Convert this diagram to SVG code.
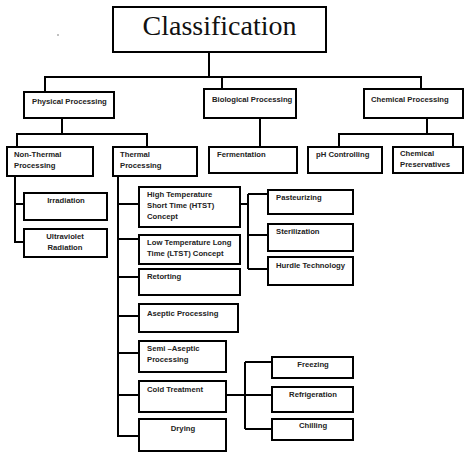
<svg xmlns="http://www.w3.org/2000/svg" width="474" height="453" viewBox="0 0 474 453">
<style>
.b{fill:#fff;stroke:#000;stroke-width:2}
.t{font-family:"Liberation Sans",Arial,sans-serif;font-weight:bold;font-size:7.7px;fill:#222}
.c{text-anchor:middle}
.ln{fill:none;stroke:#000;stroke-width:2}
</style>
<rect width="474" height="453" fill="#fff"/>
<circle cx="58" cy="35" r="0.7" fill="#555"/>
<g id="connectors" class="ln">
<path d="M209 52V77M45 92V77H421V89M222 77V89"/>
<path d="M62 118V134M17 147V134H147V147"/>
<path d="M260 118V147"/>
<path d="M427 118V134M339 147V134H453V147"/>
<path d="M15 176V242H24M15 204H24"/>
<path d="M118 176V436H139M118 204H139M118 239H139M118 277H139M118 316H139M118 353H139M118 395H139"/>
<path d="M240 204H248M248 194V269M248 194H268M248 235H268M248 269H268"/>
<path d="M226 395H245M245 362V429M245 362H272M245 395H272M245 429H272"/>
</g>
<g id="classification"><rect class="b" x="113" y="7" width="213" height="45"/><text x="219.5" y="35" text-anchor="middle" font-family="'Liberation Serif','Times New Roman',serif" font-size="28" fill="#111">Classification</text></g>
<g id="physical"><rect class="b" x="24" y="92" width="90" height="26"/><text class="t" x="32" y="104">Physical Processing</text></g>
<g id="biological"><rect class="b" x="204" y="89" width="92" height="29"/><text class="t" x="212" y="102">Biological Processing</text></g>
<g id="chemical"><rect class="b" x="364" y="89" width="99" height="29"/><text class="t" x="371" y="102">Chemical Processing</text></g>
<g id="nonthermal"><rect class="b" x="7" y="147" width="86" height="29"/><text class="t" x="14" y="157">Non-Thermal</text><text class="t" x="14" y="168">Processing</text></g>
<g id="thermal"><rect class="b" x="113" y="147" width="84" height="29"/><text class="t" x="120" y="157">Thermal</text><text class="t" x="120" y="168">Processing</text></g>
<g id="fermentation"><rect class="b" x="209" y="147" width="88" height="26"/><text class="t" x="217" y="157">Fermentation</text></g>
<g id="ph"><rect class="b" x="308" y="147" width="74" height="26"/><text class="t" x="316" y="157">pH Controlling</text></g>
<g id="preservatives"><rect class="b" x="393" y="147" width="70" height="26"/><text class="t" x="400" y="156">Chemical</text><text class="t" x="400" y="167">Preservatives</text></g>
<g id="irradiation"><rect class="b" x="24" y="193" width="83" height="27"/><text class="t c" x="66" y="203">Irradiation</text></g>
<g id="uv"><rect class="b" x="24" y="229" width="83" height="28"/><text class="t c" x="65" y="239">Ultraviolet</text><text class="t c" x="65" y="250">Radiation</text></g>
<g id="htst"><rect class="b" x="139" y="187" width="101" height="40"/><text class="t" x="147" y="197">High Temperature</text><text class="t" x="147" y="208">Short Time (HTST)</text><text class="t" x="147" y="219">Concept</text></g>
<g id="ltst"><rect class="b" x="139" y="235" width="101" height="29"/><text class="t" x="147" y="245">Low Temperature Long</text><text class="t" x="147" y="256">Time (LTST) Concept</text></g>
<g id="retorting"><rect class="b" x="139" y="269" width="101" height="26"/><text class="t" x="147" y="279">Retorting</text></g>
<g id="aseptic"><rect class="b" x="139" y="304" width="99" height="28"/><text class="t" x="147" y="316">Aseptic Processing</text></g>
<g id="semiaseptic"><rect class="b" x="139" y="341" width="87" height="31"/><text class="t" x="147" y="351">Semi –Aseptic</text><text class="t" x="147" y="362">Processing</text></g>
<g id="cold"><rect class="b" x="139" y="381" width="87" height="31"/><text class="t" x="147" y="392">Cold Treatment</text></g>
<g id="drying"><rect class="b" x="139" y="419" width="87" height="32"/><text class="t c" x="183" y="431">Drying</text></g>
<g id="pasteurizing"><rect class="b" x="268" y="190" width="85" height="24"/><text class="t" x="276" y="200">Pasteurizing</text></g>
<g id="sterilization"><rect class="b" x="268" y="224" width="85" height="27"/><text class="t" x="276" y="234">Sterilization</text></g>
<g id="hurdle"><rect class="b" x="268" y="257" width="85" height="28"/><text class="t" x="276" y="268">Hurdle Technology</text></g>
<g id="freezing"><rect class="b" x="272" y="357" width="81" height="21"/><text class="t c" x="313" y="367">Freezing</text></g>
<g id="refrigeration"><rect class="b" x="272" y="387" width="81" height="25"/><text class="t c" x="313" y="397">Refrigeration</text></g>
<g id="chilling"><rect class="b" x="272" y="419" width="81" height="21"/><text class="t c" x="313" y="428">Chilling</text></g>
</svg>
